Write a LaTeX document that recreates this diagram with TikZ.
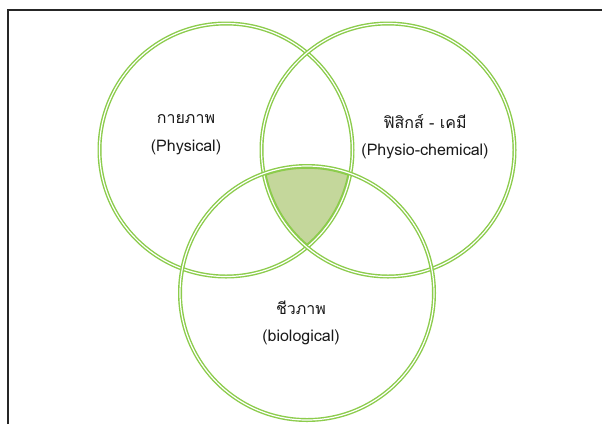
\documentclass[tikz,border=0pt]{standalone}
\usepackage{fontspec}
\newfontfamily\thaifont[Script=Thai]{Loma}
\definecolor{vgreen}{RGB}{140,204,76}
\definecolor{vfill}{RGB}{196,215,155}
\begin{document}
\begin{tikzpicture}[x=1pt,y=-1pt,
  ring/.style={draw=vgreen, double=white, line width=1.4pt, double distance=1.2pt},
  lbl/.style={font=\thaifont\fontsize{16}{18}\selectfont, align=center, text=black!90, inner sep=0pt}]
\useasboundingbox (0,0) rectangle (602,424);
\fill[white] (0,0) rectangle (602,424);
\draw[line width=1.4pt, black!85] (8,424) -- (8,10) -- (602,10);
\coordinate (cA) at (226,150);
\coordinate (cB) at (388,150);
\coordinate (cC) at (307,293);
% shaded common region
\begin{scope}
  \clip (cA) circle[radius=126.5];
  \clip (cB) circle[radius=126.5];
  \fill[vfill] (cC) circle[radius=127];
  \clip (cC) circle[radius=127];
  \draw[vgreen, line width=5.5pt] (cA) circle[radius=126.5] (cB) circle[radius=126.5] (cC) circle[radius=127];
\end{scope}
\draw[ring] (cA) circle[radius=126.5];
\draw[ring] (cB) circle[radius=126.5];
\draw[ring] (cC) circle[radius=127];
\node[lbl] (tA) at (186,119) {กายภาพ};
\node[lbl] (eA) at (186,147) {(Physical)};
\node[lbl] (tB) at (425,122) {ฟิสิกส์ - เคมี};
\node[lbl] (eB) at (425,151) {(Physio-chemical)};
\node[lbl] (tC) at (301,308) {ชีวภาพ};
\node[lbl] (eC) at (301,337) {(biological)};
\end{tikzpicture}
\end{document}
